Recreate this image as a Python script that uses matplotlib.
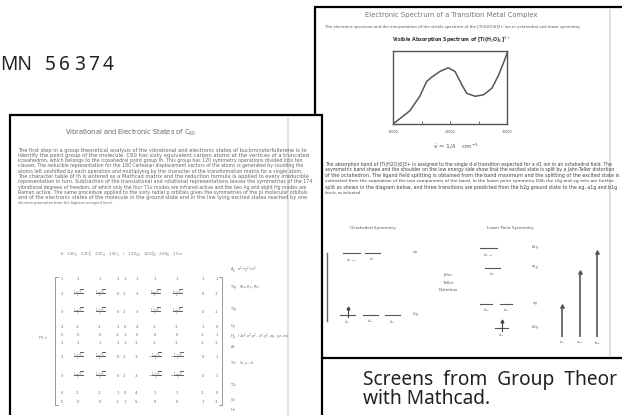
import textwrap
import numpy as np
import matplotlib
matplotlib.use("Agg")
import matplotlib.pyplot as plt
from matplotlib.patches import Rectangle

plt.rcParams["font.family"] = ["DejaVu Sans"]
plt.rcParams["mathtext.fontset"] = "dejavusans"

W, H = 622, 415

# 可见吸收光谱 [Ti(H2O)6]3+
wavenumber = [10000, 12940, 14700, 15880, 16760, 18240, 19700, 20880,
              22060, 22940, 24410, 25880, 27350, 28530, 29700, 30000]
absorbance = [0.00, 0.18, 0.38, 0.58, 0.64, 0.72, 0.77, 0.72,
              0.54, 0.42, 0.38, 0.40, 0.49, 0.67, 0.90, 0.97]
spec_ticks = [10000, 20000, 30000]

# 能级图 (单位 Δo)
oct_labels = ["e$_g$", "t$_{2g}$"]
oct_energy = [0.6, -0.4]
oct_orbitals = [["d$_{x^2-y^2}$", "d$_{z^2}$"],
                ["d$_{xy}$", "d$_{xz}$", "d$_{yz}$"]]
low_labels = ["b$_{1g}$", "a$_{1g}$", "e$_g$", "b$_{2g}$"]
low_energy = [0.68, 0.36, -0.22, -0.61]
low_orbitals = [["d$_{x^2-y^2}$"], ["d$_{z^2}$"],
                ["d$_{xz}$", "d$_{yz}$"], ["d$_{xy}$"]]

# 跃迁 (棒状谱)
trans_labels = ["e$_g$", "a$_{1g}$", "b$_{1g}$"]
trans_energy = [0.5, 1.05, 1.37]

# Ih 特征标表
ih_classes = "E   12C$_5$   12C$_5^2$   20C$_3$   15C$_2$   i   12S$_{10}$   12S$_{10}^3$   20S$_6$   15σ"
fp = r"$\frac{1+\sqrt{5}}{2}$"
fm = r"$\frac{1-\sqrt{5}}{2}$"
nfp = r"$-\frac{1+\sqrt{5}}{2}$"
nfm = r"$-\frac{1-\sqrt{5}}{2}$"
ih_chars = [
    ["1", "1", "1", "1", "1", "1", "1", "1", "1", "1"],
    ["3", fp, fm, "0", "-1", "3", fm, fp, "0", "-1"],
    ["3", fm, fp, "0", "-1", "3", fp, fm, "0", "-1"],
    ["4", "-1", "-1", "1", "0", "4", "-1", "-1", "1", "0"],
    ["5", "0", "0", "-1", "1", "5", "0", "0", "-1", "1"],
    ["1", "1", "1", "1", "1", "-1", "-1", "-1", "-1", "-1"],
    ["3", fp, fm, "0", "-1", "-3", nfm, nfp, "0", "1"],
    ["3", fm, fp, "0", "-1", "-3", nfp, nfm, "0", "1"],
    ["4", "-1", "-1", "1", "0", "-4", "1", "1", "-1", "0"],
    ["5", "0", "0", "-1", "1", "-5", "0", "0", "1", "-1"],
]
ih_irreps = ["A$_g$   x$^2$+y$^2$+z$^2$", "T$_{1g}$   (R$_x$, R$_y$, R$_z$)", "T$_{2g}$",
             "G$_g$", "H$_g$   (2z$^2$-x$^2$-y$^2$, x$^2$-y$^2$, xy, yz, zx)", "A$_u$",
             "T$_{1u}$   (x, y, z)", "T$_{2u}$", "G$_u$", "H$_u$"]

front_text = (
    "The first step in a group theoretical analysis of the vibrational and electronic states of "
    "buckminsterfullerene is to identify the point group of the molecule. C60 has sixty equivalent "
    "carbon atoms at the vertices of a truncated icosahedron, which belongs to the icosahedral point "
    "group Ih. This group has 120 symmetry operations divided into ten classes. The reducible "
    "representation for the 180 Cartesian displacement vectors of the atoms is generated by counting "
    "the atoms left unshifted by each operation and multiplying by the character of the transformation "
    "matrix for a single atom. The character table of Ih is entered as a Mathcad matrix and the "
    "reduction formula is applied to every irreducible representation in turn. Subtraction of the "
    "translational and rotational representations leaves the symmetries of the 174 vibrational degrees "
    "of freedom, of which only the four T1u modes are infrared active and the two Ag and eight Hg modes "
    "are Raman active. The same procedure applied to the sixty radial p orbitals gives the symmetries of "
    "the pi molecular orbitals and of the electronic states of the molecule in the ground state and in "
    "the low lying excited states reached by one electron promotion from the highest occupied level."
)
right_text = (
    "The absorption band of [Ti(H2O)6]3+ is assigned to the single d-d transition expected for a d1 ion "
    "in an octahedral field. The asymmetric band shape and the shoulder on the low energy side show that "
    "the excited state is split by a Jahn-Teller distortion of the octahedron. The ligand field splitting "
    "is obtained from the band maximum and the splitting of the excited state is estimated from the "
    "separation of the two components of the band. In the lower point symmetry D4h the t2g and eg sets "
    "are further split as shown in the diagram below, and three transitions are predicted from the b2g "
    "ground state to the eg, a1g and b1g levels, as indicated by the stick spectrum at the right of "
    "the energy level diagram."
)

fig = plt.figure(figsize=(W / 100, H / 100), dpi=100)
fig.patch.set_facecolor("white")
ax = fig.add_axes([0, 0, 1, 1])
ax.set_xlim(0, W)
ax.set_ylim(H, 0)
ax.axis("off")
renderer = fig.canvas.get_renderer()


def fit(x, y, s, width, size=3, ha="left", **kw):
    t = ax.text(x, y, s, fontsize=size, ha=ha, va="center", **kw)
    w = t.get_window_extent(renderer).width
    t.set_fontsize(size * width / w)
    return t


def paragraph(text, chars, n_full, x, y0, dy, width, n_last, **kw):
    lines = textwrap.wrap(text, chars)
    for i, s in enumerate(lines[:n_full]):
        fit(x, y0 + i * dy, s, width, **kw)
    last = lines[min(n_full, len(lines) - 1)]
    ax.text(x, y0 + n_full * dy, " ".join(last.split()[:n_last]), fontsize=2.6,
            va="center", **kw)


# 后面那页
ax.add_patch(Rectangle((315, 7), 330, 351, fc="white", ec="black", lw=1.6, zorder=1))
ax.plot([610, 610], [9, 356], color="#e2e2e2", lw=1.5, zorder=2)
fit(451, 15, "Electronic Spectrum of a Transition Metal Complex", 172, ha="center", color="#777777", zorder=3)
fit(325, 27, "The electronic spectrum and the interpretation of the visible spectrum of the [Ti(H2O)6]3+ ion in octahedral and lower symmetry.",
    253, color="#555555", zorder=3)
fit(451, 40, "Visible Absorption Spectrum of [Ti(H$_2$O)$_6$]$^{3+}$", 118, ha="center",
    color="#333333", fontweight="bold", zorder=3)
fit(456, 146, r"$\tilde{\nu}$ = 1/$\lambda$   cm$^{-1}$", 47, ha="center", color="#555555", zorder=3)

paragraph(right_text, 128, 5, 325, 164, 5.8, 285, 3, color="#444444", zorder=3)

ax.text(373, 228, "Octahedral Symmetry", fontsize=3, ha="center", va="center", color="#555555", zorder=3)
ax.text(510, 228, "Lower Point Symmetry", fontsize=3, ha="center", va="center", color="#555555", zorder=3)
for i, s in enumerate(["Jahn-", "Teller", "Distortion"]):
    ax.text(448, 275 + i * 7.5, s, fontsize=2.8, ha="center", va="center", color="#555555", zorder=3)

# 光谱
ax1 = fig.add_axes([393 / W, 1 - 124 / H, 114 / W, 73 / H])
ax1.plot(wavenumber, absorbance, color="#555555", lw=1.1)
ax1.set_xlim(10000, 30000)
ax1.set_ylim(0, 1)
ax1.set_xticks([10000, 15000, 20000, 25000, 30000])
ax1.set_xticklabels([str(v) if v in spec_ticks else "" for v in [10000, 15000, 20000, 25000, 30000]])
ax1.tick_params(axis="x", direction="in", length=2, width=0.6, labelsize=2.4,
                pad=4, colors="#555555")
ax1.set_yticks([])
for sp in ax1.spines.values():
    sp.set_linewidth(1.0)
    sp.set_color("#555555")

# 能级图
ax2 = fig.add_axes([330 / W, 1 - 346 / H, 220 / W, 111.6 / H])
ax2.set_xlim(0, 220)
ax2.set_ylim(-0.9, 0.9)
ax2.axis("off")
kw = dict(color="#555555", lw=0.8)
oct_bars = [[(13, 30), (35, 50)], [(10, 25), (33, 48), (55, 70)]]
for e, lab, orbs, bars in zip(oct_energy, oct_labels, oct_orbitals, oct_bars):
    for (a, b), o in zip(bars, orbs):
        ax2.plot([a, b], [e, e], **kw)
        ax2.text((a + b) / 2, e - 0.1, o, fontsize=2.3, ha="center", va="center", color="#666666")
    ax2.text(85, e, lab, fontsize=2.8, ha="center", va="center", color="#555555")
low_bars = [[(150, 167)], [(155, 170)], [(150, 162), (170, 182)], [(165, 178)]]
for e, lab, orbs, bars in zip(low_energy, low_labels, low_orbitals, low_bars):
    for (a, b), o in zip(bars, orbs):
        ax2.plot([a, b], [e, e], **kw)
        ax2.text((a + b) / 2, e - 0.1, o, fontsize=2.3, ha="center", va="center", color="#666666")
    ax2.text(205, e, lab, fontsize=2.8, ha="center", va="center", color="#555555")
# 电子
for xc, e in [(17.5, oct_energy[1]), (171.5, low_energy[3])]:
    ax2.plot([xc, xc], [e - 0.04, e + 0.12], color="#444444", lw=0.8)
    ax2.plot([xc], [e + 0.12], marker="^", ms=2, color="#444444")
ax2.plot([-3, -3], [oct_energy[1] - 0.1, oct_energy[0]], color="#666666", lw=1.0, clip_on=False)

# 棒状谱
ax3 = fig.add_axes([553 / W, 1 - 337 / H, 53 / W, 93 / H])
ax3.patch.set_alpha(0)
ax3.set_xlim(-0.5, 2.5)
ax3.set_ylim(0, 1.5)
xs = np.arange(len(trans_energy))
ax3.vlines(xs, 0, trans_energy, color="#555555", lw=1.2)
ax3.plot(xs, trans_energy, "^", ms=2.5, color="#555555")
ax3.set_xticks(xs)
ax3.set_xticklabels(trans_labels)
ax3.tick_params(axis="x", length=0, labelsize=2.4, pad=1.5, colors="#555555")
ax3.set_yticks([])
for sp in ax3.spines.values():
    sp.set_visible(False)

# 前面那页
ax.add_patch(Rectangle((10, 115), 312, 320, fc="white", ec="black", lw=1.6, zorder=5))
ax.plot([288, 288], [117, H], color="#e2e2e2", lw=1.5, zorder=6)
fit(131, 133, "Vibrational and Electronic States of C$_{60}$", 132, ha="center", color="#666666", zorder=7)
paragraph(front_text, 122, 10, 18, 150, 5.3, 284, 7, color="#666666", zorder=7)

fit(60, 255, ih_classes, 120, color="#777777", zorder=7)
col_x = [62, 78, 100, 118, 125, 137, 155, 177, 203, 217]
row_y = [279, 294, 312, 327, 335, 343, 357, 376, 393, 402]
for r, row in enumerate(ih_chars):
    for c, v in enumerate(row):
        ax.text(col_x[c], row_y[r], v, fontsize=2.6, ha="center", va="center",
                color="#666666", zorder=7)
for xb, d in [(55, 3), (222, -3)]:
    ax.plot([xb + d, xb, xb, xb + d], [277, 277, 405, 405], color="#888888", lw=0.6, zorder=7)
ax.text(38, 338, "Γ$_R$ =", fontsize=2.8, va="center", color="#666666", zorder=7)
lab_y = [270, 288, 310, 327, 337, 347, 363, 385, 400, 410]
for y, s in zip(lab_y, ih_irreps):
    ax.text(230, y, s, fontsize=2.6, va="center", color="#666666", zorder=7)

# 说明文字
cap = dict(fontsize=13.8, family=["Noto Sans", "DejaVu Sans"], color="#222222")
ax.text(363, 404, "Screens  from  Group  Theor\nwith Mathcad.", va="baseline",
        linespacing=0.92, **cap)
ax.text(0, 70, "MN", va="baseline", **cap)
for i, ch in enumerate("56374"):
    ax.text(45 + i * 14.5, 70, ch, va="baseline", **cap)

fig.savefig("out.png", dpi=100, facecolor="white")
